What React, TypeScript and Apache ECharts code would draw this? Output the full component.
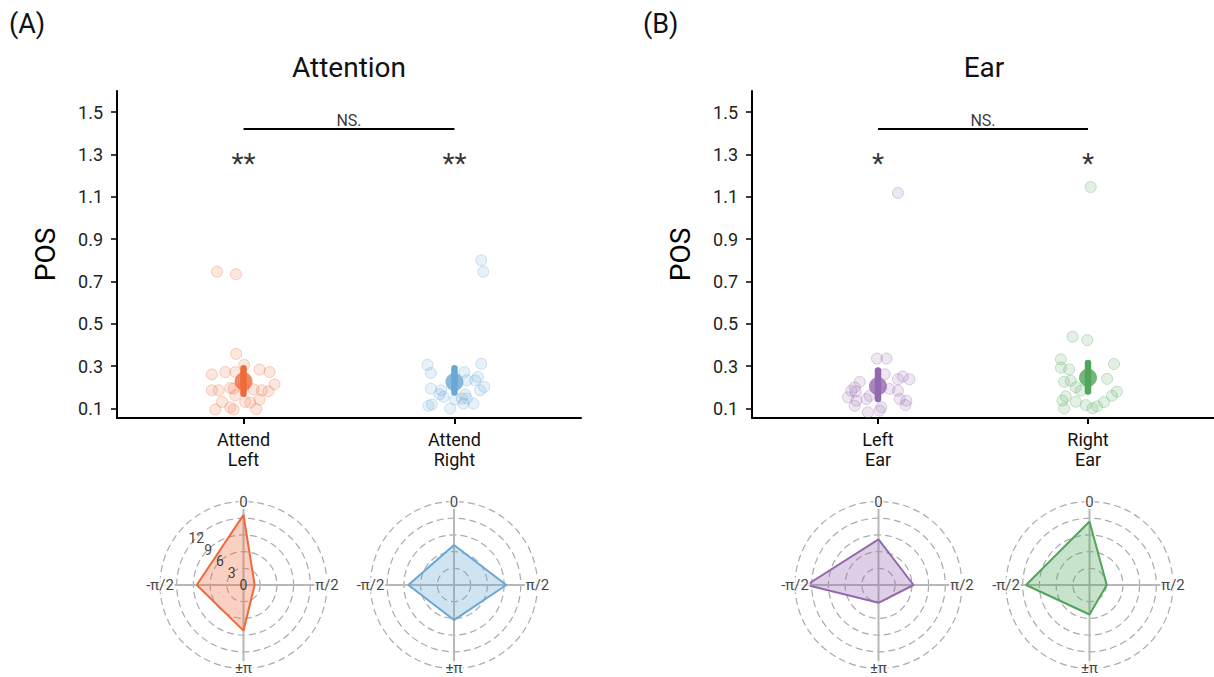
import React, { useEffect, useRef } from "react";
import * as echarts from "echarts";

// ---------- data ----------
const yTickValues = [0.1, 0.3, 0.5, 0.7, 0.9, 1.1, 1.3, 1.5];
const attentionCategories = ["Attend\nLeft", "Attend\nRight"];
const earCategories = ["Left\nEar", "Right\nEar"];

// jittered individual points [x position (category units), POS]
const attendLeftPoints = [
  [0.965, 0.358], [0.85, 0.261], [0.913, 0.272], [0.961, 0.272], [1.003, 0.306],
  [1.076, 0.284], [1.123, 0.272], [1.147, 0.214], [0.85, 0.186], [0.882, 0.186],
  [0.937, 0.197], [0.953, 0.194], [1.047, 0.191], [1.087, 0.186], [1.118, 0.181],
  [0.961, 0.162], [1.008, 0.131], [1.032, 0.128], [1.076, 0.142], [0.898, 0.131],
  [0.937, 0.105], [0.866, 0.095], [0.953, 0.095], [1.06, 0.097], [0.874, 0.746],
  [0.964, 0.734], [1.0, 0.2],
];
const attendRightPoints = [
  [1.872, 0.306], [1.888, 0.268], [2.127, 0.311], [2.047, 0.272], [2.111, 0.249],
  [2.098, 0.233], [2.059, 0.233], [1.888, 0.194], [1.937, 0.186], [1.929, 0.167],
  [1.948, 0.155], [2.141, 0.202], [2.122, 0.186], [2.051, 0.166], [2.035, 0.147],
  [2.059, 0.147], [2.003, 0.142], [2.09, 0.123], [1.893, 0.119], [1.877, 0.113],
  [1.98, 0.1], [2.043, 0.123], [2.127, 0.8], [2.137, 0.746],
];
const leftEarPoints = [
  [0.995, 0.336], [1.04, 0.336], [1.032, 0.262], [0.913, 0.226], [0.889, 0.2],
  [0.873, 0.184], [0.894, 0.179], [0.857, 0.153], [0.897, 0.137], [0.889, 0.113],
  [0.945, 0.145], [0.96, 0.16], [1.055, 0.192], [1.095, 0.238], [1.118, 0.251],
  [1.15, 0.238], [1.095, 0.184], [1.103, 0.145], [1.135, 0.137], [1.131, 0.116],
  [1.016, 0.106], [0.952, 0.082], [1.008, 0.09], [1.095, 1.118],
];
const rightEarPoints = [
  [1.926, 0.439], [1.997, 0.423], [1.871, 0.332], [1.871, 0.293], [1.91, 0.285],
  [1.886, 0.226], [1.918, 0.231], [1.942, 0.2], [1.965, 0.184], [1.894, 0.157],
  [1.878, 0.137], [1.886, 0.101], [1.942, 0.132], [1.989, 0.116], [2.021, 0.101],
  [2.124, 0.31], [2.091, 0.24], [2.138, 0.18], [2.114, 0.16], [2.076, 0.13],
  [2.043, 0.11], [2.013, 1.146],
];

const attentionMeans = [0.228, 0.225];
const attentionLow = [0.17, 0.175];
const attentionHigh = [0.29, 0.29];
const earMeans = [0.205, 0.245];
const earLow = [0.145, 0.18];
const earHigh = [0.28, 0.315];

const attentionStars = ["**", "**"];
const earStars = ["*", "*"];
const starLevel = 1.28;
const nsLevel = 1.42;
const nsText = "NS.";

// polar (phase) values at angles 0, π/2, ±π, -π/2
const phaseAngles = [0, 90, 180, 270];
const phaseLabels = ["0", "π/2", "±π", "-π/2"];
const radialTicks = [0, 3, 6, 9, 12];
const attendLeftPhase = [12.6, 2.0, 8.2, 8.4];
const attendRightPhase = [7.2, 9.4, 6.3, 8.2];
const leftEarPhase = [8.2, 6.3, 3.2, 12.9];
const rightEarPhase = [11.4, 3.1, 5.3, 11.4];

const ORANGE = "#EE6A3B";
const BLUE = "#6AA7D3";
const PURPLE = "#9468AE";
const GREEN = "#4FA65A";

function rgba(hex: string, a: number) {
  const n = parseInt(hex.slice(1), 16);
  return `rgba(${(n >> 16) & 255},${(n >> 8) & 255},${n & 255},${a})`;
}

const FONT = "Roboto";

export default function App() {
  const ref = useRef<HTMLDivElement>(null);
  useEffect(() => {
    if (!ref.current) return;
    const chart = echarts.init(ref.current, undefined, { renderer: "svg" });

    const grids = [
      { left: 117, top: 91, width: 464, height: 327 },
      { left: 752, top: 91, width: 462, height: 327 },
    ];
    const panels = [
      {
        cats: attentionCategories, pts: [attendLeftPoints, attendRightPoints], colors: [ORANGE, BLUE],
        means: attentionMeans, low: attentionLow, high: attentionHigh, stars: attentionStars,
      },
      {
        cats: earCategories, pts: [leftEarPoints, rightEarPoints], colors: [PURPLE, GREEN],
        means: earMeans, low: earLow, high: earHigh, stars: earStars,
      },
    ];

    const xAxis: any[] = [];
    const yAxis: any[] = [];
    const series: any[] = [];

    panels.forEach((p, gi) => {
      xAxis.push({
        gridIndex: gi, type: "value", min: 0.4, max: 2.6,
        axisLine: { show: true, onZero: false, lineStyle: { color: "#000", width: 2 } },
        axisTick: { show: true, length: 6, customValues: [1, 2], lineStyle: { color: "#000", width: 2 } },
        axisLabel: {
          show: true, customValues: [1, 2], margin: 11,
          formatter: (v: number) => p.cats[Math.round(v) - 1] || "",
          color: "#111", fontFamily: FONT, fontSize: 18, lineHeight: 20,
        },
        splitLine: { show: false },
      });
      yAxis.push({
        gridIndex: gi, type: "value", min: 0.055, max: 1.6,
        name: "POS", nameLocation: "middle", nameGap: 58,
        nameTextStyle: { fontFamily: FONT, fontSize: 28, color: "#000" },
        axisLine: { show: true, onZero: false, lineStyle: { color: "#000", width: 2 } },
        axisTick: { show: true, length: 6, customValues: yTickValues, lineStyle: { color: "#000", width: 1.5 } },
        axisLabel: {
          show: true, customValues: yTickValues, margin: 14,
          formatter: (v: number) => v.toFixed(1),
          color: "#222", fontFamily: FONT, fontSize: 18,
        },
        splitLine: { show: false },
      });
      p.pts.forEach((pts, ci) => {
        series.push({
          type: "scatter", xAxisIndex: gi, yAxisIndex: gi, data: pts, symbolSize: 11,
          itemStyle: { color: rgba(p.colors[ci], 0.2), borderColor: rgba(p.colors[ci], 0.38), borderWidth: 1 },
          z: 2,
        });
        series.push({
          type: "line", xAxisIndex: gi, yAxisIndex: gi,
          data: [[ci + 1, p.low[ci]], [ci + 1, p.high[ci]]],
          symbol: "none", lineStyle: { color: p.colors[ci], width: 6.5, cap: "round" }, z: 3,
        });
        series.push({
          type: "scatter", xAxisIndex: gi, yAxisIndex: gi,
          data: [[ci + 1, p.means[ci]]], symbolSize: 18,
          itemStyle: { color: p.colors[ci] }, z: 4,
        });
      });
      // significance
      series.push({
        type: "line", xAxisIndex: gi, yAxisIndex: gi,
        data: [[1, nsLevel], [2, nsLevel]], symbol: "none",
        lineStyle: { color: "#000", width: 2 }, z: 3,
      });
      series.push({
        type: "scatter", xAxisIndex: gi, yAxisIndex: gi,
        data: [[1.5, nsLevel]], symbolSize: 0,
        label: { show: true, position: "top", distance: 1, formatter: nsText, fontFamily: FONT, fontSize: 16, color: "#000" },
      });
      series.push({
        type: "scatter", xAxisIndex: gi, yAxisIndex: gi,
        data: [[1, starLevel], [2, starLevel]], symbolSize: 0,
        label: {
          show: true, position: "inside", offset: [0, 5],
          formatter: (d: any) => p.stars[d.dataIndex],
          fontFamily: FONT, fontSize: 28, color: "#000",
        },
      });
    });

    // polar plots
    const polarCenters = [243.5, 454, 878.5, 1089.5];
    const phaseSets = [attendLeftPhase, attendRightPhase, leftEarPhase, rightEarPhase];
    const phaseColors = [ORANGE, BLUE, PURPLE, GREEN];
    const ringColors = ["#aaa", "#aaa", "#aaa", "#aaa", "#aaa", "#aaa", "rgba(0,0,0,0)"];
    const polar: any[] = [];
    const angleAxis: any[] = [];
    const radiusAxis: any[] = [];
    polarCenters.forEach((cx, i) => {
      polar.push({ center: [cx, 585], radius: 90 });
      angleAxis.push({
        polarIndex: i, type: "value", min: 0, max: 360, interval: 90, startAngle: 90, clockwise: true,
        axisLine: { show: false }, axisTick: { show: false }, axisLabel: { show: false },
        splitLine: { show: true, lineStyle: { color: "#b8b8b8", width: 2 } },
      });
      radiusAxis.push({
        polarIndex: i, type: "value", min: 0, max: 16.17, interval: 3,
        axisLine: { show: false }, axisTick: { show: false }, axisLabel: { show: false },
        splitLine: { show: true, lineStyle: { color: ringColors, type: [7, 4], width: 1.2 } },
      });
      const vals = phaseSets[i];
      const pts = phaseAngles.map((a, k) => [vals[k], a]);
      pts.push([vals[0], 360]);
      series.push({
        type: "line", coordinateSystem: "polar", polarIndex: i, data: pts, symbol: "none",
        lineStyle: { color: phaseColors[i], width: 2 },
        areaStyle: { color: rgba(phaseColors[i], 0.45) }, z: 3,
      });
      series.push({
        type: "scatter", coordinateSystem: "polar", polarIndex: i,
        data: phaseAngles.map((a) => [15, a]), symbolSize: 0,
        label: {
          show: true, position: "inside",
          formatter: (d: any) => phaseLabels[d.dataIndex],
          fontFamily: FONT, fontSize: 15, color: "#111",
          backgroundColor: "#fff", padding: [0, 1],
        },
        z: 5,
      });
      if (i === 0) {
        series.push({
          type: "scatter", coordinateSystem: "polar", polarIndex: i,
          data: radialTicks.map((r) => [r, 315]), symbolSize: 0,
          label: {
            show: true, position: "inside",
            formatter: (d: any) => String(radialTicks[d.dataIndex]),
            fontFamily: FONT, fontSize: 14, color: "#111",
          },
          z: 5,
        });
      }
    });

    const option: any = {
      animation: false,
      backgroundColor: "#fff",
      grid: grids,
      xAxis, yAxis, polar, angleAxis, radiusAxis, series,
      graphic: [
        { type: "text", left: 9, top: 10, style: { text: "(A)", font: `27px ${FONT}`, fill: "#111" } },
        { type: "text", left: 643, top: 10, style: { text: "(B)", font: `27px ${FONT}`, fill: "#111" } },
        { type: "text", x: 349, y: 67, style: { text: "Attention", font: `28px ${FONT}`, fill: "#111", align: "center", verticalAlign: "middle" } },
        { type: "text", x: 984, y: 67, style: { text: "Ear", font: `28px ${FONT}`, fill: "#111", align: "center", verticalAlign: "middle" } },
      ],
    };
    chart.setOption(option);
    return () => chart.dispose();
  }, []);
  return (
    <div
      ref={ref}
      style={{ position: "fixed", left: 0, top: 0, width: 1214, height: 677, background: "#fff" }}
    />
  );
}
